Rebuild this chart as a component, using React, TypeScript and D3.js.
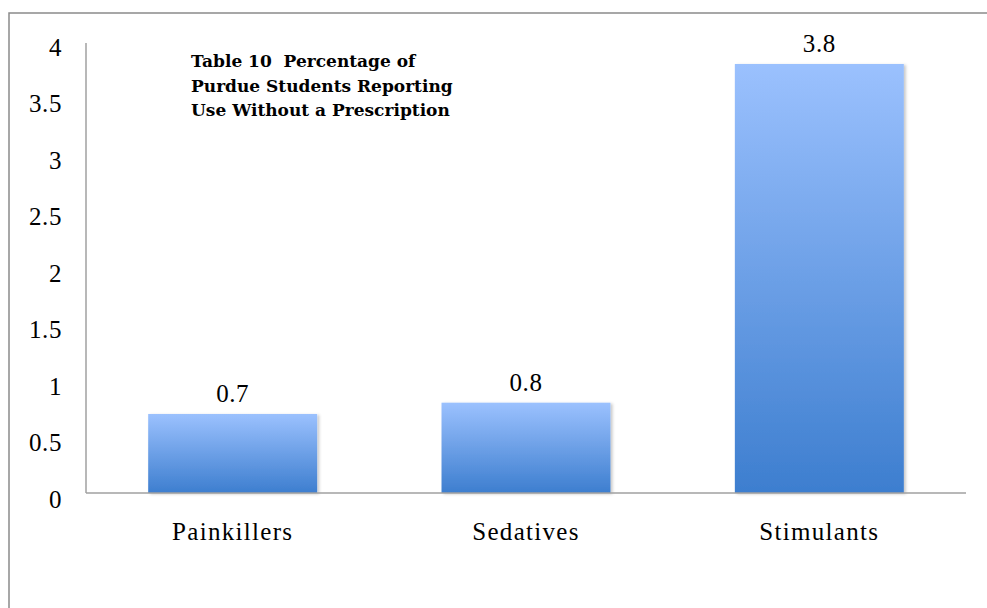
import React from "react";
import * as d3 from "d3";

const categories = ["Painkillers", "Sedatives", "Stimulants"];
const values = [0.7, 0.8, 3.8];
const yTicks = [0, 0.5, 1, 1.5, 2, 2.5, 3, 3.5, 4];
const titleLines = [
  "Table 10  Percentage of",
  "Purdue Students Reporting",
  "Use Without a Prescription",
];

const W = 987;
const H = 608;
const plot = { left: 86, right: 966, top: 43, bottom: 493 };
const serif = "'Liberation Serif', 'Times New Roman', serif";

export default function App() {
  const x = d3
    .scaleBand<string>()
    .domain(categories)
    .range([plot.left, plot.right])
    .padding(0);
  const y = d3.scaleLinear().domain([0, 4]).range([plot.bottom, 41.4]);
  const barW = x.bandwidth() * 0.576;

  return (
    <svg
      width={W}
      height={H}
      style={{ position: "absolute", left: 0, top: 0 }}
      fontFamily={serif}
    >
      <defs>
        <linearGradient id="barFill" x1="0" y1="0" x2="0" y2="1">
          <stop offset="0%" stopColor="#9bc1fe" />
          <stop offset="100%" stopColor="#3d7ecf" />
        </linearGradient>
        <filter id="barShadow" x="-10%" y="-10%" width="130%" height="130%">
          <feDropShadow dx="2" dy="1" stdDeviation="1.5" floodColor="#000" floodOpacity="0.22" />
        </filter>
      </defs>
      <rect x={0} y={0} width={W} height={H} fill="#fff" />
      {/* outer frame */}
      <rect x={9} y={13} width={W + 50} height={H + 50} fill="none" stroke="#8a8a8a" strokeWidth={1.5} />

      {/* y axis line */}
      <line x1={plot.left} x2={plot.left} y1={plot.top} y2={plot.bottom} stroke="#a0a0a0" strokeWidth={1.5} />

      {yTicks.map((t) => (
        <text key={t} x={62} y={y(t) + 14.5} textAnchor="end" fontSize={25} fill="#000" letterSpacing={0.6}>
          {t}
        </text>
      ))}

      {categories.map((c, i) => {
        const cx = (x(c) as number) + x.bandwidth() / 2;
        const top = y(values[i]);
        return (
          <g key={c}>
            <rect
              x={cx - barW / 2}
              y={top}
              width={barW}
              height={plot.bottom - top}
              fill="url(#barFill)"
              filter="url(#barShadow)"
            />
            <text x={cx} y={top - 12} textAnchor="middle" fontSize={25} fill="#000" letterSpacing={0.6}>
              {values[i]}
            </text>
            <text x={cx} y={540} textAnchor="middle" fontSize={25} fill="#000" letterSpacing={1.3}>
              {c}
            </text>
          </g>
        );
      })}

      {/* x axis baseline */}
      <line x1={plot.left} x2={plot.right} y1={plot.bottom} y2={plot.bottom} stroke="#a0a0a0" strokeWidth={1.5} />

      {titleLines.map((l, i) => (
        <text
          key={i}
          x={191}
          y={67 + i * 24.5}
          fontSize={17}
          fontFamily="'DejaVu Serif', serif"
          fontWeight="bold"
          fill="#000"
          style={{ whiteSpace: "pre" }}
        >
          {l}
        </text>
      ))}
    </svg>
  );
}
